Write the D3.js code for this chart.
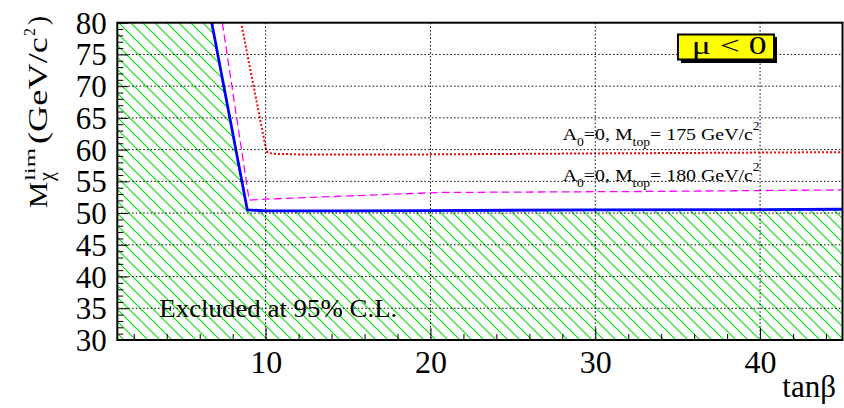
<!DOCTYPE html>
<html><head><meta charset="utf-8">
<script src="https://cdn.jsdelivr.net/npm/d3@7"></script>
<style>
html,body{margin:0;padding:0;background:#fff;}
svg{display:block;}
</style></head>
<body><svg id="c" width="844" height="408"></svg>
<script>
// ---- data ----
const xTicksMajor = [10, 20, 30, 40];
const yTicksMajor = [30, 35, 40, 45, 50, 55, 60, 65, 70, 75, 80];
// observed limit (blue, solid)
const limitTanB = [6.73, 8.89, 10, 15, 20, 30, 40, 45];
const limitM    = [80.0, 50.5, 50.35, 50.35, 50.4, 50.5, 50.55, 50.6];
// A0=0, Mtop=180 (magenta dashed)
const mtop180TanB = [7.37, 9.0, 10, 15, 20.6, 32.7, 45];
const mtop180M    = [80.0, 52.05, 52.2, 52.7, 53.25, 53.4, 53.65];
// A0=0, Mtop=175 (red dotted)
const mtop175TanB = [8.55, 10.05, 10.4, 12, 20, 30, 45];
const mtop175M    = [79.5, 59.7, 59.35, 59.25, 59.25, 59.4, 59.6];

const FONT = '"Liberation Serif"';
const svg = d3.select("#c");
const L = 117.3, R = 842.5, T = 22.7, B = 340;
const x = d3.scaleLinear().domain([1, 45]).range([L, R]);
const y = d3.scaleLinear().domain([30, 80]).range([B, T]);

// hatch pattern
const defs = svg.append("defs");
const pat = defs.append("pattern").attr("id","hatch").attr("patternUnits","userSpaceOnUse")
  .attr("width",12).attr("height",12);
pat.append("path").attr("d","M-3,-3 L15,15 M-15,-3 L3,15 M9,-3 L27,15")
  .attr("stroke","#00e400").attr("stroke-width",1.1).attr("fill","none");
defs.append("clipPath").attr("id","clip").append("rect")
  .attr("x",L).attr("y",T).attr("width",R-L).attr("height",B-T);

const plot = svg.append("g").attr("clip-path","url(#clip)");

// excluded region
const excl = [[1,30],[1,80]].concat(limitTanB.map((t,i)=>[t,limitM[i]])).concat([[45,30]]);
plot.append("path").attr("d", d3.line().x(d=>x(d[0])).y(d=>y(d[1]))(excl)+"Z")
  .attr("fill","url(#hatch)").attr("stroke","none");

// grid
const grid = svg.append("g").attr("stroke","#000").attr("stroke-width",1).attr("stroke-dasharray","1.5,2.2");
xTicksMajor.forEach(v=>grid.append("line").attr("x1",x(v)).attr("x2",x(v)).attr("y1",T).attr("y2",B));
yTicksMajor.filter(v=>v>30&&v<80).forEach(v=>grid.append("line").attr("x1",L).attr("x2",R).attr("y1",y(v)).attr("y2",y(v)));

// curves
const line = d3.line().x(d=>x(d[0])).y(d=>y(d[1]));
plot.append("path").attr("d", line(mtop175TanB.map((t,i)=>[t,mtop175M[i]])))
  .attr("fill","none").attr("stroke","#ff0000").attr("stroke-width",2).attr("stroke-dasharray","2,2");
plot.append("path").attr("d", line(mtop180TanB.map((t,i)=>[t,mtop180M[i]])))
  .attr("fill","none").attr("stroke","#ff00ff").attr("stroke-width",1.3).attr("stroke-dasharray","8,4");
plot.append("path").attr("d", line(limitTanB.map((t,i)=>[t,limitM[i]])))
  .attr("fill","none").attr("stroke","#0000ff").attr("stroke-width",2.8);

// frame
svg.append("rect").attr("x",L).attr("y",T).attr("width",R-L).attr("height",B-T)
  .attr("fill","none").attr("stroke","#000").attr("stroke-width",2);

// axes
const xAxis = svg.append("g").attr("transform",`translate(0,${B})`)
  .call(d3.axisBottom(x).tickValues(xTicksMajor).tickSize(-12).tickFormat(d3.format("d")));
xAxis.select(".domain").remove();
xAxis.selectAll(".tick line").attr("stroke","#000").attr("stroke-width",1);
xAxis.selectAll(".tick text").style("font-family",FONT).style("font-size","32px").attr("fill","#000")
  .attr("y",32.5).attr("dy",0);
const xMinor = svg.append("g").attr("transform",`translate(0,${B})`)
  .call(d3.axisBottom(x).tickValues(d3.range(2,45,2).filter(v=>v%10!==0)).tickSize(-6).tickFormat(""));
xMinor.select(".domain").remove();

const yAxis = svg.append("g").attr("transform",`translate(${L},0)`)
  .call(d3.axisLeft(y).tickValues(yTicksMajor).tickSize(-11).tickFormat(d3.format("d")));
yAxis.select(".domain").remove();
yAxis.selectAll(".tick text").style("font-family",FONT).style("font-size","31px").attr("fill","#000")
  .attr("x",-10.6).attr("dy","0.34em");
const yMinor = svg.append("g").attr("transform",`translate(${L},0)`)
  .call(d3.axisLeft(y).tickValues(d3.range(31,80,1).filter(v=>v%5!==0)).tickSize(-6).tickFormat(""));
yMinor.select(".domain").remove();

function txt(parent, xx, yy, size, s){
  return parent.append("text").attr("x",xx).attr("y",yy)
    .style("font-family",FONT).style("font-size",size+"px").attr("fill","#000").text(s);
}

// x title
txt(svg, 836, 396.5, 31, "tanβ").attr("text-anchor","end");

// y title
const yt = svg.append("g").attr("transform","translate(47,208) rotate(-90)");
txt(yt, 0, 0, 25, "M").attr("textLength",26).attr("lengthAdjust","spacingAndGlyphs");
txt(yt, 27, -12, 15, "lim").attr("textLength",33).attr("lengthAdjust","spacingAndGlyphs");
txt(yt, 27, 6, 20, "χ");
txt(yt, 64, 0, 27, "(GeV/c").attr("textLength",107).attr("lengthAdjust","spacingAndGlyphs");
txt(yt, 172, -12, 16, "2");
txt(yt, 183, 0, 27, ")");

// mu < 0 box
svg.append("rect").attr("x",681).attr("y",37).attr("width",96).attr("height",26).attr("fill","#000");
svg.append("rect").attr("x",678).attr("y",34.5).attr("width",96).attr("height",25)
  .attr("fill","#ffff00").attr("stroke","#000").attr("stroke-width",2);
txt(svg, 691.7, 53.5, 26, "μ < 0").attr("textLength",75).attr("lengthAdjust","spacingAndGlyphs");

// annotations
function annot(yb, mt){
  const t = txt(svg, 562.7, yb, 17.5, null)
    .attr("textLength",197).attr("lengthAdjust","spacingAndGlyphs");
  t.append("tspan").text("A");
  t.append("tspan").style("font-size","12px").attr("dy",6).text("0");
  t.append("tspan").attr("dy",-6).text("=0, M");
  t.append("tspan").style("font-size","12px").attr("dy",6).text("top");
  t.append("tspan").attr("dy",-6).text("= "+mt+" GeV/c");
  t.append("tspan").style("font-size","12px").attr("dy",-10).text("2");
}
annot(140, 175);
annot(180.7, 180);

txt(svg, 159.3, 317.3, 25.5, "Excluded at 95% C.L.").attr("textLength",238)
  .attr("lengthAdjust","spacingAndGlyphs");
</script></body></html>
